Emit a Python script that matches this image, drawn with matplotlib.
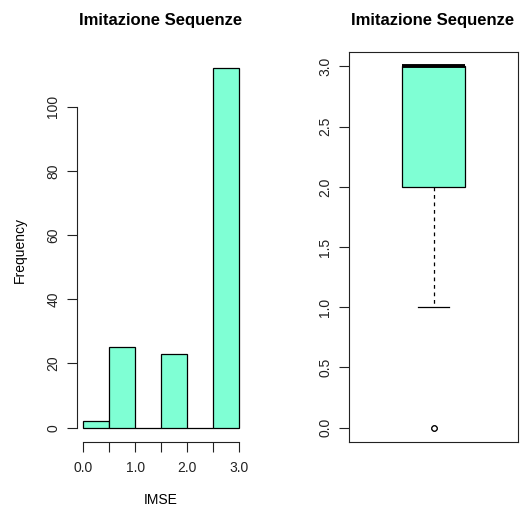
import numpy as np
import matplotlib
matplotlib.use('Agg')
import matplotlib.pyplot as plt

plt.rcParams['font.family'] = ['Liberation Sans', 'DejaVu Sans']

# punteggi IMSE e loro frequenze
punteggi = [0, 1, 2, 3]
frequenze = [2, 25, 23, 112]
bordi = [0.0, 0.5, 1.0, 1.5, 2.0, 2.5, 3.0]
titolo = "Imitazione Sequenze"
colore = "#7FFFD4"

campione = np.repeat(punteggi, frequenze)

# classi chiuse a destra (come hist di R), lo 0 va nella prima classe
idx = np.clip(np.searchsorted(bordi, campione, side='left') - 1, 0, len(bordi) - 2)
conteggi = np.bincount(idx, minlength=len(bordi) - 1)

W, H = 523, 513
fig = plt.figure(figsize=(W / 100, H / 100), dpi=100)

# --- istogramma ---
ax1 = fig.add_axes([77 / W, 71 / H, 168 / W, 388 / H])
larghezze = np.diff(bordi)
ax1.bar(bordi[:-1], conteggi, width=larghezze, align='edge',
        color=colore, edgecolor='black', linewidth=0.9)
ax1.set_xlim(-0.12, 3.12)
ax1.set_ylim(-4.48, 116.48)
for s in ['top', 'right']:
    ax1.spines[s].set_visible(False)
ax1.spines['left'].set_bounds(0, 100)
ax1.spines['bottom'].set_bounds(0, 3)
ax1.set_xticks(bordi)
ax1.set_xticklabels(['0.0', '', '1.0', '', '2.0', '', '3.0'])
ax1.set_yticks([0, 20, 40, 60, 80, 100])
ax1.tick_params(axis='both', length=7, width=0.8, labelsize=10, colors='#222222')
ax1.tick_params(axis='x', pad=7)
ax1.tick_params(axis='y', pad=5, labelrotation=90)
for lab in ax1.get_yticklabels():
    lab.set_va('center')
for s in ['left', 'bottom']:
    ax1.spines[s].set_linewidth(0.8)
    ax1.spines[s].set_color('#222222')

fig.text(161 / W, 1 - 20 / H, titolo, ha='center', va='center',
         fontsize=12, fontweight='bold')
fig.text(161 / W, 1 - 500 / H, "IMSE", ha='center', va='center', fontsize=10)
fig.text(20 / W, 1 - 250 / H, "Frequency", ha='center', va='center',
         rotation=90, fontsize=10)

# --- boxplot ---
ax2 = fig.add_axes([349 / W, 71 / H, 169 / W, 390 / H])
ax2.boxplot(campione, positions=[1], widths=0.4, capwidths=0.2,
            patch_artist=True,
            boxprops=dict(facecolor=colore, edgecolor='black', linewidth=0.9),
            medianprops=dict(color='black', linewidth=2.8),
            whiskerprops=dict(color='black', linestyle=(0, (3, 3)), linewidth=0.9),
            capprops=dict(color='black', linewidth=0.9),
            flierprops=dict(marker='o', markersize=4, markerfacecolor='none',
                            markeredgecolor='black', markeredgewidth=0.7))
ax2.set_xlim(0.46, 1.54)
ax2.set_ylim(-0.12, 3.12)
ax2.set_xticks([])
ax2.set_yticks(np.arange(0, 3.01, 0.5))
ax2.set_yticklabels([f"{v:.1f}" for v in np.arange(0, 3.01, 0.5)])
ax2.tick_params(axis='y', length=7, width=0.8, labelsize=10, colors='#222222',
                pad=5, labelrotation=90)
for lab in ax2.get_yticklabels():
    lab.set_va('center')
for s in ax2.spines.values():
    s.set_linewidth(0.8)
    s.set_color('#222222')

fig.text(433 / W, 1 - 20 / H, titolo, ha='center', va='center',
         fontsize=12, fontweight='bold')

fig.savefig('out.png', dpi=100)
